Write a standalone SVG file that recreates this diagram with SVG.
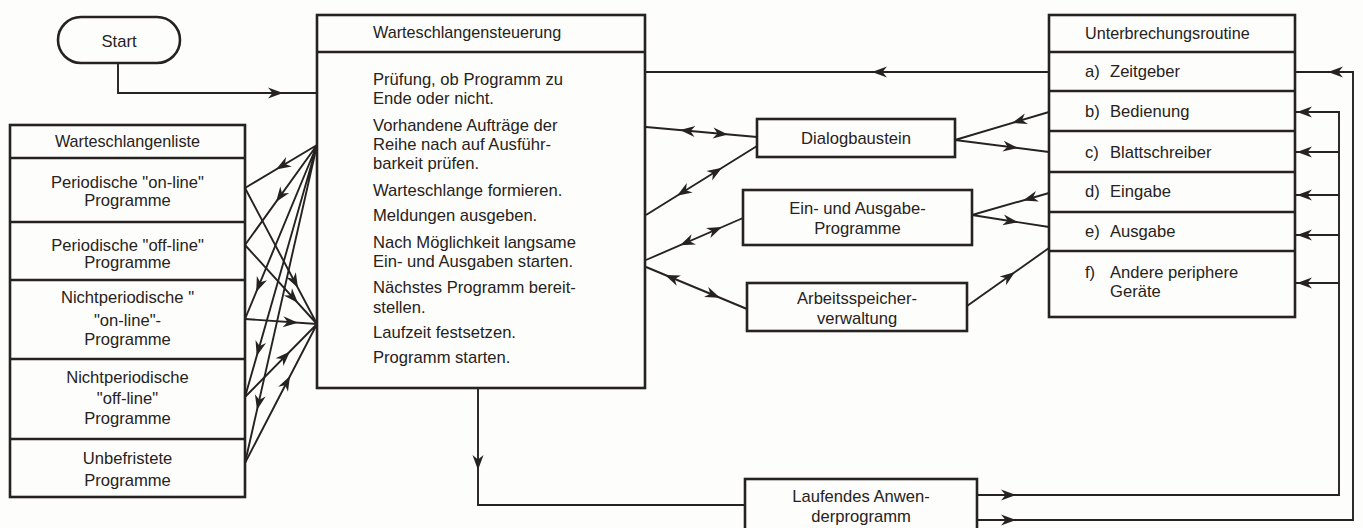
<svg xmlns="http://www.w3.org/2000/svg" width="1363" height="528" viewBox="0 0 1363 528">
<defs>
<style>
.box{fill:none;stroke:#262220;stroke-width:2.6}
.ln{fill:none;stroke:#262220;stroke-width:1.9}
.dv{stroke:#262220;stroke-width:2.3}
text{font-family:"Liberation Sans",Arial,sans-serif;font-size:16.6px;fill:#262220}
.c{text-anchor:middle}
.h{font-size:16.2px}
</style>
<path id="ah" d="M0,0 L-15,-5.5 L-10.5,0 L-15,5.5 Z" fill="#262220"/>
</defs>
<rect width="1363" height="528" fill="#fdfdfb"/>

<g id="start">
<rect class="box" x="58" y="17" width="122" height="46" rx="23"/>
<text class="c" x="119" y="47">Start</text>
</g>

<g id="warteschlangenliste">
<rect class="box" x="10" y="125" width="235" height="372"/>
<line class="dv" x1="10" y1="158" x2="245" y2="158"/>
<line class="dv" x1="10" y1="222" x2="245" y2="222"/>
<line class="dv" x1="10" y1="280" x2="245" y2="280"/>
<line class="dv" x1="10" y1="359" x2="245" y2="359"/>
<line class="dv" x1="10" y1="439" x2="245" y2="439"/>
<text class="c h" x="127.5" y="147">Warteschlangenliste</text>
<text class="c" x="127.5" y="188">Periodische "on-line"</text>
<text class="c" x="127.5" y="206">Programme</text>
<text class="c" x="127.5" y="251">Periodische "off-line"</text>
<text class="c" x="127.5" y="268">Programme</text>
<text class="c" x="127.5" y="303">Nichtperiodische "</text>
<text class="c" x="127.5" y="326">"on-line"-</text>
<text class="c" x="127.5" y="345">Programme</text>
<text class="c" x="127.5" y="383">Nichtperiodische</text>
<text class="c" x="127.5" y="404">"off-line"</text>
<text class="c" x="127.5" y="424">Programme</text>
<text class="c" x="127.5" y="464">Unbefristete</text>
<text class="c" x="127.5" y="486">Programme</text>
</g>

<g id="warteschlangensteuerung">
<rect class="box" x="317" y="15" width="328" height="373"/>
<line class="dv" x1="317" y1="52" x2="645" y2="52"/>
<text class="h" x="373" y="38">Warteschlangensteuerung</text>
<text x="373" y="85">Prüfung, ob Programm zu</text>
<text x="373" y="104">Ende oder nicht.</text>
<text x="373" y="131">Vorhandene Aufträge der</text>
<text x="373" y="150">Reihe nach auf Ausführ-</text>
<text x="373" y="169">barkeit prüfen.</text>
<text x="373" y="196">Warteschlange formieren.</text>
<text x="373" y="221">Meldungen ausgeben.</text>
<text x="373" y="248">Nach Möglichkeit langsame</text>
<text x="373" y="267">Ein- und Ausgaben starten.</text>
<text x="373" y="293">Nächstes Programm bereit-</text>
<text x="373" y="313">stellen.</text>
<text x="373" y="338">Laufzeit festsetzen.</text>
<text x="373" y="363">Programm starten.</text>
</g>

<g id="dialogbaustein">
<rect class="box" x="757" y="119" width="198" height="38"/>
<text class="c" x="856" y="144">Dialogbaustein</text>
</g>

<g id="ein-ausgabe">
<rect class="box" x="743" y="190" width="229" height="55"/>
<text class="c" x="857.5" y="214">Ein- und Ausgabe-</text>
<text class="c" x="857.5" y="234">Programme</text>
</g>

<g id="arbeitsspeicher">
<rect class="box" x="747" y="283" width="220" height="48"/>
<text class="c" x="857" y="304">Arbeitsspeicher-</text>
<text class="c" x="857" y="324">verwaltung</text>
</g>

<g id="unterbrechungsroutine">
<rect class="box" x="1049" y="15" width="246" height="302"/>
<line class="dv" x1="1049" y1="52" x2="1295" y2="52"/>
<line class="dv" x1="1049" y1="91" x2="1295" y2="91"/>
<line class="dv" x1="1049" y1="131" x2="1295" y2="131"/>
<line class="dv" x1="1049" y1="172" x2="1295" y2="172"/>
<line class="dv" x1="1049" y1="212" x2="1295" y2="212"/>
<line class="dv" x1="1049" y1="251" x2="1295" y2="251"/>
<text class="h" x="1085" y="39">Unterbrechungsroutine</text>
<text x="1085" y="77">a)</text><text x="1110" y="77">Zeitgeber</text>
<text x="1085" y="117">b)</text><text x="1110" y="117">Bedienung</text>
<text x="1085" y="158">c)</text><text x="1110" y="158">Blattschreiber</text>
<text x="1085" y="197">d)</text><text x="1110" y="197">Eingabe</text>
<text x="1085" y="237">e)</text><text x="1110" y="237">Ausgabe</text>
<text x="1085" y="278">f)</text><text x="1110" y="278">Andere periphere</text>
<text x="1110" y="297">Geräte</text>
</g>

<g id="laufendes-anwenderprogramm">
<rect class="box" x="745" y="479" width="232" height="62"/>
<text class="c" x="861" y="502">Laufendes Anwen-</text>
<text class="c" x="861" y="522">derprogramm</text>
</g>

<g id="connectors">
<path class="ln" d="M118,63 V93 H317"/>
<use href="#ah" transform="translate(283,93)"/>

<path class="ln" d="M317,145 L245,188 M317,145 L245,245 M317,145 L245,319 M317,145 L245,397 M317,145 L245,463"/>
<use href="#ah" transform="translate(276,169.5) rotate(149.2)"/>
<use href="#ah" transform="translate(276,202) rotate(125.75)"/>
<use href="#ah" transform="translate(256.2,292) rotate(112.5)"/>
<use href="#ah" transform="translate(256.7,356) rotate(105.95)"/>
<use href="#ah" transform="translate(257,410) rotate(102.76)"/>
<path class="ln" d="M245,188 L317,324 M245,245 L317,324 M245,319 L317,324 M245,397 L317,324 M245,463 L317,324"/>
<use href="#ah" transform="translate(298,288) rotate(62.1)"/>
<use href="#ah" transform="translate(298,303) rotate(47.65)"/>
<use href="#ah" transform="translate(298,322.7) rotate(3.97)"/>
<use href="#ah" transform="translate(290,351.4) rotate(-45.4)"/>
<use href="#ah" transform="translate(290,376) rotate(-62.6)"/>

<path class="ln" d="M646,127 L757,137"/>
<use href="#ah" transform="translate(680,130.1) rotate(185.15)"/>
<use href="#ah" transform="translate(728,134.4) rotate(5.15)"/>
<path class="ln" d="M646,215 L757,146"/>
<use href="#ah" transform="translate(722,167.8) rotate(-31.9)"/>
<use href="#ah" transform="translate(677,195.7) rotate(148.1)"/>
<path class="ln" d="M646,260 L743,218"/>
<use href="#ah" transform="translate(722,227.1) rotate(-23.4)"/>
<use href="#ah" transform="translate(680,245.3) rotate(156.6)"/>
<path class="ln" d="M646,267 L747,309"/>
<use href="#ah" transform="translate(665,274.9) rotate(202.6)"/>
<use href="#ah" transform="translate(720,297.8) rotate(22.6)"/>

<path class="ln" d="M1049,112 L955,140 L1049,152"/>
<use href="#ah" transform="translate(1012,123) rotate(163.4)"/>
<use href="#ah" transform="translate(1018,148) rotate(7.3)"/>
<path class="ln" d="M1049,193 L972,215 L1049,227"/>
<use href="#ah" transform="translate(1023,200.4) rotate(164.05)"/>
<use href="#ah" transform="translate(1018,222.2) rotate(8.86)"/>
<path class="ln" d="M967,306 L1049,248"/>
<use href="#ah" transform="translate(1015,272.1) rotate(-35.7)"/>

<path class="ln" d="M1049,72 L645,72"/>
<use href="#ah" transform="translate(872,72) rotate(180)"/>

<path class="ln" d="M478,388 V505 H745"/>
<use href="#ah" transform="translate(478,470) rotate(90)"/>

<path class="ln" d="M977,495 H1339 V112 H1295 M1339,152 H1295 M1339,195 H1295 M1339,235 H1295 M1339,283 H1295"/>
<use href="#ah" transform="translate(1016,495)"/>
<use href="#ah" transform="translate(1297,112) rotate(180)"/>
<use href="#ah" transform="translate(1297,152) rotate(180)"/>
<use href="#ah" transform="translate(1297,195) rotate(180)"/>
<use href="#ah" transform="translate(1297,235) rotate(180)"/>
<use href="#ah" transform="translate(1297,283) rotate(180)"/>
<path class="ln" d="M977,520 H1353 V72 H1295"/>
<use href="#ah" transform="translate(1016,520)"/>
<use href="#ah" transform="translate(1328,72) rotate(180)"/>
</g>
</svg>
